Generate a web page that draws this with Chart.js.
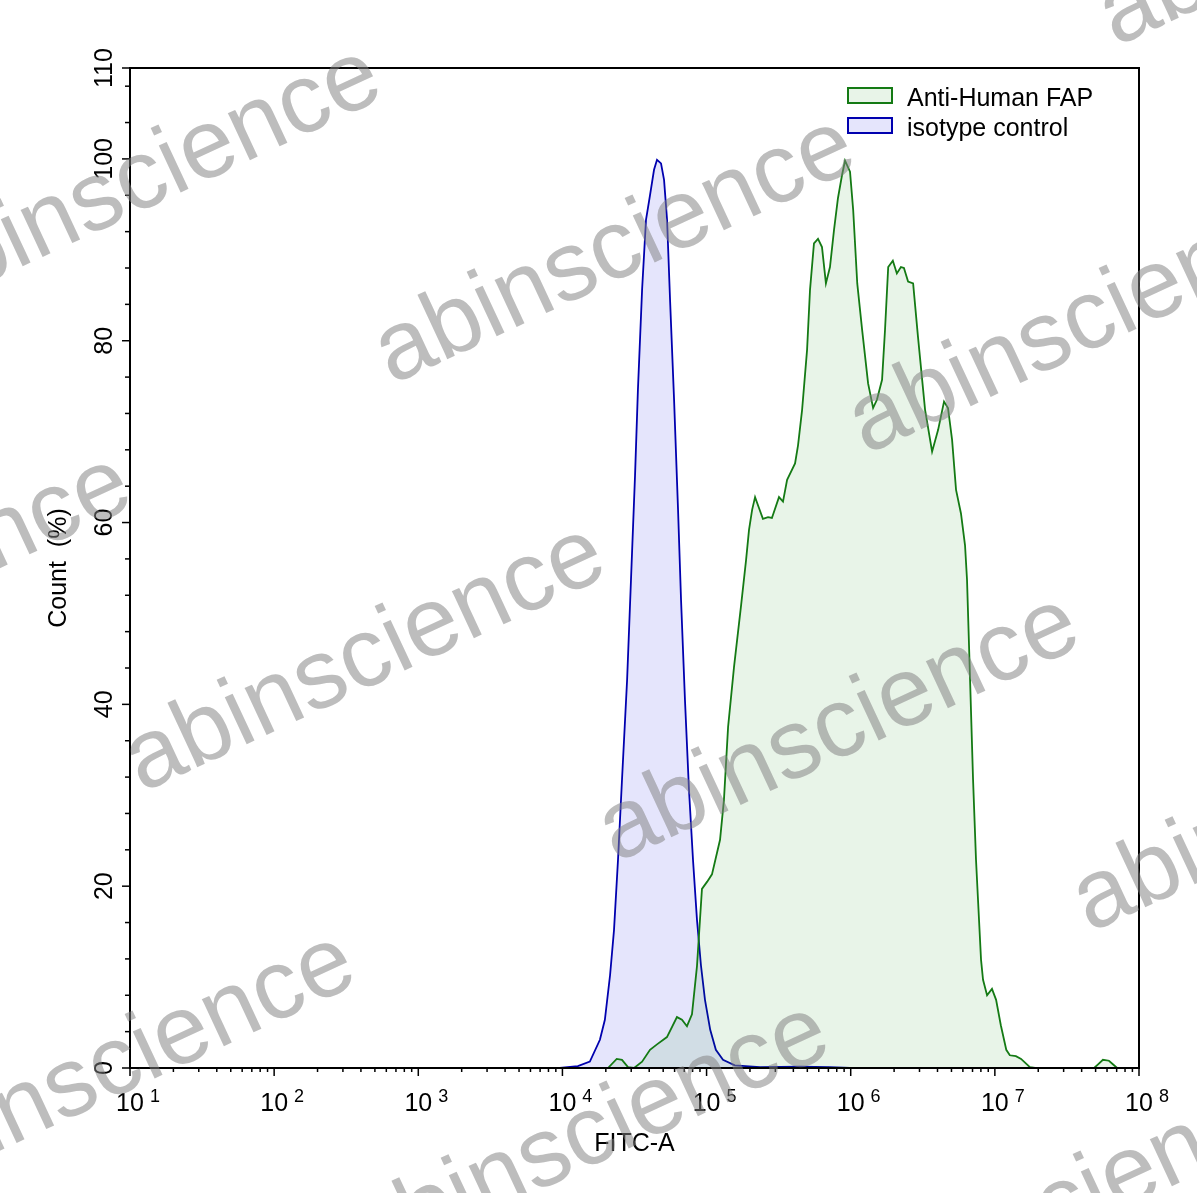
<!DOCTYPE html>
<html>
<head>
<meta charset="utf-8">
<title>FITC-A histogram</title>
<script src="https://cdn.jsdelivr.net/npm/chart.js@4.4.1/dist/chart.umd.min.js"></script>
<style>
  html, body { margin: 0; padding: 0; background: #fff; }
  canvas { display: block; }
</style>
</head>
<body>
<canvas id="myChart" width="1197" height="1193"></canvas>
<script>
// Anti-Human FAP histogram (FITC-A fluorescence, count %)
const fapX = [1.82e4, 2.07e4, 2.38e4, 2.59e4, 2.85e4, 3.14e4, 3.57e4, 4.05e4, 4.53e4, 5.31e4,
  6.23e4, 6.75e4, 7.31e4, 7.92e4, 8.58e4, 9.29e4, 1.01e5, 1.09e5, 1.24e5, 1.32e5,
  1.41e5, 1.55e5, 1.73e5, 1.88e5, 1.97e5, 2.07e5, 2.17e5, 2.31e5, 2.46e5, 2.67e5,
  2.84e5, 3.18e5, 3.39e5, 3.62e5, 4.11e5, 4.31e5, 4.60e5, 4.98e5, 5.22e5, 5.56e5,
  5.93e5, 6.32e5, 6.73e5, 7.18e5, 7.66e5, 8.16e5, 8.70e5, 9.13e5, 9.89e5, 1.04e6,
  1.11e6, 1.20e6, 1.32e6, 1.43e6, 1.52e6, 1.65e6, 1.73e6, 1.82e6, 1.96e6, 2.09e6,
  2.23e6, 2.34e6, 2.50e6, 2.71e6, 2.93e6, 3.28e6, 3.67e6, 4.04e6, 4.44e6, 4.73e6,
  5.05e6, 5.38e6, 5.82e6, 6.21e6, 6.41e6, 6.73e6, 7.06e6, 7.40e6, 7.64e6, 8.02e6,
  8.28e6, 8.83e6, 9.55e6, 1.02e7, 1.10e7, 1.20e7, 1.27e7, 1.40e7, 1.52e7, 1.75e7,
  1.90e7, 4.88e7, 5.20e7, 5.62e7, 6.19e7, 6.71e7, 7.05e7];
const fapY = [0, 0, 1.0, 0.9, 0.1, 0, 0.7, 2.0, 2.6, 3.4,
  5.6, 5.3, 4.6, 5.9, 11.2, 19.7, 20.5, 21.3, 25.1, 29.5,
  37.5, 44.1, 50.7, 55.9, 59.2, 61.4, 62.8, 61.6, 60.4, 60.6,
  60.5, 62.8, 62.3, 64.7, 66.5, 68.5, 72.4, 79.0, 85.6, 90.7,
  91.2, 90.3, 86.3, 88.1, 92.2, 95.7, 98.2, 99.8, 98.6, 94.4,
  86.3, 81.2, 75.3, 72.6, 73.5, 75.7, 81.2, 88.1, 88.8, 87.4,
  88.1, 88.0, 86.5, 86.3, 80.4, 72.4, 67.8, 70.2, 73.3, 72.6,
  69.1, 63.6, 61.0, 57.5, 53.7, 42.7, 31.7, 22.9, 18.5, 11.9,
  9.7, 8.0, 8.7, 7.5, 4.7, 2.0, 1.4, 1.3, 1.0, 0.1,
  0, 0, 0.4, 0.9, 0.8, 0.3, 0];

// isotype control
const isoX = [9.6e3, 1.28e4, 1.55e4, 1.82e4, 1.97e4, 2.14e4, 2.28e4, 2.43e4, 2.59e4, 2.81e4,
  2.99e4, 3.19e4, 3.34e4, 3.57e4, 3.80e4, 4.05e4, 4.32e4, 4.53e4, 4.83e4, 5.07e4,
  5.32e4, 5.58e4, 5.95e4, 6.34e4, 6.65e4, 7.08e4, 7.55e4, 8.05e4, 8.58e4, 9.14e4,
  9.75e4, 1.06e5, 1.16e5, 1.30e5, 1.57e5, 2.35e5, 4.45e5, 7.18e5, 9.9e5];
const isoY = [0, 0.2, 0.7, 3.1, 5.3, 10.2, 15.2, 22.9, 31.7, 42.7,
  53.7, 65.2, 74.6, 85.6, 93.3, 96.0, 98.8, 99.9, 99.5, 97.7,
  93.3, 84.5, 73.5, 61.4, 51.5, 40.5, 30.6, 22.9, 16.3, 11.3,
  7.5, 4.2, 2.0, 0.9, 0.3, 0.1, 0.15, 0.1, 0];

const seriesNames = ['Anti-Human FAP', 'isotype control'];
const xExponents = [1, 2, 3, 4, 5, 6, 7, 8];
const yTickLabels = [0, 20, 40, 60, 80, 100, 110];
const yMinorStep = 4;
const xTitle = 'FITC-A';
const yTitle = 'Count  (%)';
const watermark = 'abinscience';

const FONT = '"Liberation Sans", Arial, sans-serif';

function toPoints(xs, ys) {
  return xs.map((v, i) => ({x: v, y: ys[i]}));
}

// axes, frame, legend and watermark drawn through the chart scales
const decorations = {
  id: 'decorations',
  afterDraw(chart) {
    const ctx = chart.ctx;
    const a = chart.chartArea;
    const xs = chart.scales.x;
    const ys = chart.scales.y;
    ctx.save();
    ctx.strokeStyle = '#000';
    ctx.fillStyle = '#000';
    ctx.lineWidth = 2;
    ctx.strokeRect(a.left, a.top, a.right - a.left, a.bottom - a.top);

    // x ticks (log decades + minor)
    ctx.lineWidth = 1.5;
    xExponents.forEach(function(e) {
      const px = xs.getPixelForValue(Math.pow(10, e));
      ctx.beginPath(); ctx.moveTo(px, a.bottom); ctx.lineTo(px, a.bottom + 8); ctx.stroke();
      if (e < xExponents[xExponents.length - 1]) {
        for (let k = 2; k <= 9; k++) {
          const mx = xs.getPixelForValue(k * Math.pow(10, e));
          ctx.beginPath(); ctx.moveTo(mx, a.bottom); ctx.lineTo(mx, a.bottom + 4); ctx.stroke();
        }
      }
    });

    // y ticks
    for (let v = 0; v <= ys.max; v += yMinorStep) {
      const py = ys.getPixelForValue(v);
      const len = v % 20 === 0 ? 8 : 5;
      ctx.beginPath(); ctx.moveTo(a.left, py); ctx.lineTo(a.left - len, py); ctx.stroke();
    }
    ctx.beginPath(); ctx.moveTo(a.left, ys.getPixelForValue(ys.max)); ctx.lineTo(a.left - 8, ys.getPixelForValue(ys.max)); ctx.stroke();

    // x labels 10^n
    xExponents.forEach(function(e) {
      const px = xs.getPixelForValue(Math.pow(10, e));
      ctx.font = '25px ' + FONT;
      ctx.textAlign = 'center';
      ctx.textBaseline = 'alphabetic';
      ctx.fillText('10', px, a.bottom + 43);
      const w = ctx.measureText('10').width;
      ctx.font = '18px ' + FONT;
      ctx.textAlign = 'left';
      ctx.fillText(String(e), px + w / 2 + 6, a.bottom + 34);
    });

    // y labels (rotated)
    ctx.font = '25px ' + FONT;
    ctx.textAlign = 'center';
    ctx.textBaseline = 'alphabetic';
    yTickLabels.forEach(function(v) {
      const py = ys.getPixelForValue(v);
      ctx.save();
      ctx.translate(a.left - 18, py);
      ctx.rotate(-Math.PI / 2);
      ctx.fillText(String(v), 0, 0);
      ctx.restore();
    });

    // titles
    ctx.fillText(xTitle, (a.left + a.right) / 2, a.bottom + 83);
    ctx.save();
    ctx.translate(a.left - 64, (a.top + a.bottom) / 2);
    ctx.rotate(-Math.PI / 2);
    ctx.fillText(yTitle, 0, 0);
    ctx.restore();

    // legend
    ctx.textAlign = 'left';
    chart.data.datasets.forEach(function(ds, i) {
      const bx = 848, by = a.top + 20 + i * 30;
      ctx.fillStyle = '#fff';
      ctx.fillRect(bx, by, 44, 15);
      ctx.fillStyle = ds.backgroundColor;
      ctx.fillRect(bx, by, 44, 15);
      ctx.strokeStyle = ds.borderColor;
      ctx.lineWidth = 2;
      ctx.strokeRect(bx, by, 44, 15);
      ctx.fillStyle = '#000';
      ctx.font = '25px ' + FONT;
      ctx.fillText(ds.label, bx + 59, by + 18);
    });

    // watermark
    ctx.font = '98px ' + FONT;
    ctx.fillStyle = 'rgba(128,128,128,0.52)';
    ctx.textAlign = 'left';
    const base = [392, 385], u = [474, 70], v = [-250, 408];
    for (let i = -2; i <= 2; i++) {
      for (let j = -2; j <= 3; j++) {
        const px = base[0] + i * u[0] + j * v[0];
        const py = base[1] + i * u[1] + j * v[1];
        if (px < -600 || px > 1250 || py < -50 || py > 1450) continue;
        ctx.save();
        ctx.translate(px, py);
        ctx.rotate(-25 * Math.PI / 180);
        ctx.fillText(watermark, 0, 0);
        ctx.restore();
      }
    }
    ctx.restore();
  }
};

Chart.defaults.font.family = FONT;

const ctx = document.getElementById('myChart').getContext('2d');
const chart = new Chart(ctx, {
  type: 'line',
  data: {
    datasets: [{
      label: seriesNames[0],
      data: toPoints(fapX, fapY),
      borderColor: 'rgb(20,122,20)',
      backgroundColor: 'rgba(0,128,0,0.09)',
      borderWidth: 1.8,
      fill: 'origin',
      pointRadius: 0,
      tension: 0
    }, {
      label: seriesNames[1],
      data: toPoints(isoX, isoY),
      borderColor: 'rgb(0,0,175)',
      backgroundColor: 'rgba(0,0,230,0.1)',
      borderWidth: 1.8,
      fill: 'origin',
      pointRadius: 0,
      tension: 0
    }]
  },
  options: {
    responsive: false,
    animation: false,
    devicePixelRatio: 1,
    layout: {padding: {left: 130, top: 68, right: 58, bottom: 125}},
    plugins: {legend: {display: false}, tooltip: {enabled: false}},
    scales: {
      x: {type: 'logarithmic', min: 10, max: 1e8, display: false},
      y: {type: 'linear', min: 0, max: 110, display: false}
    }
  },
  plugins: [decorations]
});
</script>
</body>
</html>
